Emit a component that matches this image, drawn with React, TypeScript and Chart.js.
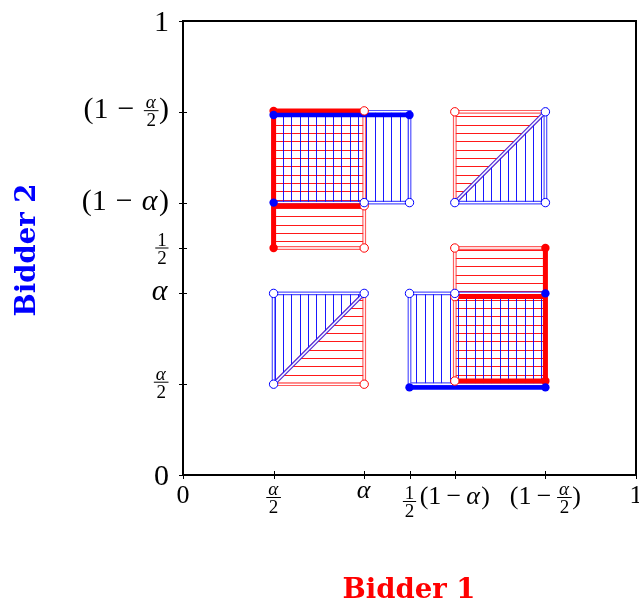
import React, { useEffect, useRef } from 'react';
import { Chart, registerables } from 'chart.js';

Chart.register(...registerables);

type Pt = { x: number; y: number };
const P = (x: number, y: number): Pt => ({ x, y });

// ---- Data -------------------------------------------------------------
// Bidder 1 regions (red, horizontal hatching)
const redTriangleLow: Pt[] = [P(0.2, 0.2), P(0.4, 0.2), P(0.4, 0.4), P(0.2, 0.2)];
const redTriangleHigh: Pt[] = [P(0.6, 0.6), P(0.6, 0.8), P(0.8, 0.8), P(0.6, 0.6)];
const redRectLeft: Pt[] = [P(0.2, 0.5), P(0.4, 0.5), P(0.4, 0.8), P(0.2, 0.8), P(0.2, 0.5)];
const redRectRight: Pt[] = [P(0.6, 0.2), P(0.8, 0.2), P(0.8, 0.5), P(0.6, 0.5), P(0.6, 0.2)];
// Bidder 2 regions (blue, vertical hatching)
const blueTriangleLow: Pt[] = [P(0.2, 0.2), P(0.2, 0.4), P(0.4, 0.4), P(0.2, 0.2)];
const blueTriangleHigh: Pt[] = [P(0.6, 0.6), P(0.8, 0.6), P(0.8, 0.8), P(0.6, 0.6)];
const blueRectLeft: Pt[] = [P(0.2, 0.6), P(0.5, 0.6), P(0.5, 0.8), P(0.2, 0.8), P(0.2, 0.6)];
const blueRectRight: Pt[] = [P(0.5, 0.2), P(0.8, 0.2), P(0.8, 0.4), P(0.5, 0.4), P(0.5, 0.2)];
// thick boundary segments
const redThickLeft: Pt[] = [P(0.2, 0.5), P(0.2, 0.802), P(0.4, 0.802)];
const redThickLeftMid: Pt[] = [P(0.2, 0.593), P(0.4, 0.593)];
const redThickRight: Pt[] = [P(0.6, 0.207), P(0.8, 0.207), P(0.8, 0.5)];
const redThickRightMid: Pt[] = [P(0.6, 0.393), P(0.8, 0.393)];
const blueThickLeft: Pt[] = [P(0.2, 0.793), P(0.5, 0.793)];
const blueThickRight: Pt[] = [P(0.5, 0.193), P(0.8, 0.193)];
// dots
const redFilled: Pt[] = [P(0.2, 0.802), P(0.2, 0.5), P(0.8, 0.5), P(0.8, 0.207)];
const blueFilled: Pt[] = [P(0.2, 0.793), P(0.2, 0.6), P(0.5, 0.793), P(0.8, 0.4), P(0.5, 0.193), P(0.8, 0.193)];
const redOpen: Pt[] = [P(0.4, 0.2), P(0.6, 0.8), P(0.4, 0.802), P(0.4, 0.5), P(0.4, 0.593), P(0.6, 0.5), P(0.6, 0.393), P(0.6, 0.207)];
const blueOpen: Pt[] = [P(0.2, 0.2), P(0.2, 0.4), P(0.4, 0.4), P(0.6, 0.6), P(0.8, 0.6), P(0.8, 0.8), P(0.4, 0.6), P(0.5, 0.6), P(0.5, 0.4), P(0.6, 0.4)];

// ticks
const xTickValues = [0, 0.2, 0.4, 0.5, 0.6, 0.8, 1];
const xTickLabels = ['0', '{α/2}', 'α', '{1/2}', '(1−α)', '(1−{α/2})', '1'];
const yTickValues = [0, 0.2, 0.4, 0.5, 0.6, 0.8, 1];
const yTickLabels = ['0', '{α/2}', 'α', '{1/2}', '(1−α)', '(1−{α/2})', '1'];
const xAxisTitle = 'Bidder 1';
const yAxisTitle = 'Bidder 2';

// ---- Helpers ----------------------------------------------------------
const RED = '#ff0000';
const BLUE = '#0000ff';
const FONT = "'Liberation Serif', 'Times New Roman', serif";

function makeHatch(dir: 'h' | 'v', color: string): CanvasPattern | string {
  const size = 25;
  const c = document.createElement('canvas');
  c.width = size;
  c.height = size;
  const g = c.getContext('2d');
  if (!g) return color;
  g.strokeStyle = color;
  g.lineWidth = 1;
  g.beginPath();
  for (const o of [0.5, 8.5, 16.5]) {
    if (dir === 'h') {
      g.moveTo(0, o);
      g.lineTo(size, o);
    } else {
      g.moveTo(o, 0);
      g.lineTo(o, size);
    }
  }
  g.stroke();
  return g.createPattern(c, 'repeat') || color;
}

type Item = { w: number; asc: number; desc: number; draw: (ctx: CanvasRenderingContext2D, x: number, base: number) => void };

function fontStr(size: number, italic: boolean) {
  return `${italic ? 'italic ' : ''}${size}px ${FONT}`;
}

function textItems(ctx: CanvasRenderingContext2D, t: string, size: number, minusGap: number): Item[] {
  const out: Item[] = [];
  for (const ch of t) {
    const italic = /[α-ω]/.test(ch);
    ctx.font = fontStr(size, italic);
    const m = ctx.measureText(ch);
    const gap = ch === '−' ? size * minusGap : 0;
    const extra = italic ? size * 0.05 : 0;
    out.push({
      w: m.width + gap * 2 + extra,
      asc: m.actualBoundingBoxAscent,
      desc: m.actualBoundingBoxDescent,
      draw: (c, x, b) => {
        c.font = fontStr(size, italic);
        c.fillText(ch, x + gap, b);
      },
    });
  }
  return out;
}

function measureRow(items: Item[]) {
  let w = 0, asc = 0, desc = 0;
  for (const it of items) {
    w += it.w;
    asc = Math.max(asc, it.asc);
    desc = Math.max(desc, it.desc);
  }
  return { w, asc, desc };
}

function layoutMath(ctx: CanvasRenderingContext2D, src: string, size: number, fsize: number, minusGap: number): Item {
  const items: Item[] = [];
  const re = /\{([^/}]+)\/([^}]+)\}/g;
  let last = 0;
  let m: RegExpExecArray | null;
  const fracItem = (n: string, d: string): Item => {
    const ni = textItems(ctx, n, fsize, 0);
    const di = textItems(ctx, d, fsize, 0);
    const nm = measureRow(ni);
    const dm = measureRow(di);
    const axis = size * 0.26;
    const pad = 2.5;
    const w = Math.max(nm.w, dm.w) + fsize * 0.25;
    return {
      w,
      asc: axis + pad + nm.desc + nm.asc,
      desc: -axis + pad + dm.asc + dm.desc,
      draw: (c, x, b) => {
        const barY = b - axis;
        let nx = x + (w - nm.w) / 2;
        const nb = barY - pad - nm.desc;
        for (const it of ni) { it.draw(c, nx, nb); nx += it.w; }
        let dx = x + (w - dm.w) / 2;
        const db = barY + pad + dm.asc;
        for (const it of di) { it.draw(c, dx, db); dx += it.w; }
        c.fillRect(x + 0.5, barY - 0.5, w - 1, 1);
      },
    };
  };
  while ((m = re.exec(src))) {
    items.push(...textItems(ctx, src.slice(last, m.index), size, minusGap));
    items.push(fracItem(m[1], m[2]));
    last = re.lastIndex;
  }
  items.push(...textItems(ctx, src.slice(last), size, minusGap));
  const r = measureRow(items);
  return {
    ...r,
    draw: (c, x, b) => {
      let cx = x;
      for (const it of items) { it.draw(c, cx, b); cx += it.w; }
    },
  };
}

const axesPlugin = {
  id: 'texAxes',
  afterDraw(chart: any) {
    const ctx: CanvasRenderingContext2D = chart.ctx;
    const { left, right, top, bottom } = chart.chartArea;
    const xs = chart.scales.x;
    const ys = chart.scales.y;
    ctx.save();
    ctx.strokeStyle = '#000';
    ctx.lineWidth = 2;
    ctx.strokeRect(left, top, right - left, bottom - top);
    ctx.lineWidth = 1;
    ctx.beginPath();
    xTickValues.forEach((v) => {
      const px = Math.round(xs.getPixelForValue(v)) + 0.5;
      ctx.moveTo(px, bottom - 4);
      ctx.lineTo(px, bottom + 4);
    });
    yTickValues.forEach((v) => {
      const py = Math.round(ys.getPixelForValue(v)) + 0.5;
      ctx.moveTo(left - 4, py);
      ctx.lineTo(left + 4, py);
    });
    ctx.stroke();

    ctx.fillStyle = '#000';
    ctx.textAlign = 'left';
    ctx.textBaseline = 'alphabetic';
    xTickValues.forEach((v, i) => {
      const box = layoutMath(ctx, xTickLabels[i], 26, 19, 0.2);
      const px = xs.getPixelForValue(v);
      const base = bottom + 11 + box.asc;
      box.draw(ctx, px - box.w / 2, base);
    });
    yTickValues.forEach((v, i) => {
      const box = layoutMath(ctx, yTickLabels[i], 30, 19, 0.3);
      const py = ys.getPixelForValue(v);
      const base = py + (box.asc - box.desc) / 2;
      box.draw(ctx, left - 14 - box.w, base);
    });

    ctx.font = "bold 27.5px 'DejaVu Serif', serif";
    ctx.textAlign = 'center';
    ctx.fillStyle = RED;
    ctx.fillText(xAxisTitle, 409, 598);
    ctx.fillStyle = BLUE;
    ctx.translate(35, (top + bottom) / 2 + 2);
    ctx.rotate(-Math.PI / 2);
    ctx.fillText(yAxisTitle, 0, 0);
    ctx.restore();
  },
};

export default function App() {
  const ref = useRef<HTMLCanvasElement>(null);
  useEffect(() => {
    if (!ref.current) return;
    const redPat = makeHatch('h', 'rgba(255,0,0,0.9)');
    const bluePat = makeHatch('v', 'rgba(0,0,255,0.9)');
    const redEdge = 'rgba(255,40,40,0.75)';
    const blueEdge = 'rgba(40,40,255,0.8)';

    const poly = (data: Pt[], pat: any, edge: string, order: number) => ({
      type: 'line' as const, data, fill: 'shape', backgroundColor: pat, borderColor: edge,
      borderWidth: 3.8, pointRadius: 0, tension: 0, order,
    });
    const inner = (data: Pt[], order: number) => ({
      type: 'line' as const, data, fill: false, borderColor: '#ffffff', borderWidth: 1.4,
      pointRadius: 0, tension: 0, order,
    });
    const thick = (data: Pt[], color: string, w: number, order: number) => ({
      type: 'line' as const, data, fill: false, borderColor: color, borderWidth: w,
      pointRadius: 0, tension: 0, order, borderCapStyle: 'butt' as const,
    });
    const dots = (data: Pt[], color: string, filled: boolean, order: number) => ({
      type: 'line' as const, data, showLine: false, fill: false, pointRadius: 4.2,
      pointBackgroundColor: filled ? color : '#ffffff', pointBorderColor: color,
      pointBorderWidth: filled ? 0 : 1, order,
    });

    const reds = [redTriangleLow, redTriangleHigh, redRectLeft, redRectRight];
    const blues = [blueTriangleLow, blueTriangleHigh, blueRectLeft, blueRectRight];

    const datasets: any[] = [
      ...reds.map((d) => poly(d, redPat, redEdge, 90)),
      ...reds.map((d) => inner(d, 85)),
      ...blues.map((d) => poly(d, bluePat, blueEdge, 80)),
      ...blues.map((d) => inner(d, 75)),
      thick(redThickLeft, RED, 5, 50),
      thick(redThickLeftMid, RED, 5, 50),
      thick(redThickRight, RED, 5, 50),
      thick(redThickRightMid, RED, 5, 50),
      thick(blueThickLeft, BLUE, 4.5, 40),
      thick(blueThickRight, BLUE, 4.5, 40),
      dots(redOpen, RED, false, 30),
      dots(blueOpen, BLUE, false, 25),
      dots(redFilled, RED, true, 20),
      dots(blueFilled, BLUE, true, 10),
    ];

    const chart = new Chart(ref.current, {
      type: 'line',
      data: { datasets },
      options: {
        animation: false,
        responsive: false,
        devicePixelRatio: 1,
        layout: { autoPadding: false, padding: { left: 183, right: 3, top: 21, bottom: 127 } },
        plugins: { legend: { display: false }, tooltip: { enabled: false }, title: { display: false } },
        scales: {
          x: { type: 'linear', min: 0, max: 1, display: false },
          y: { type: 'linear', min: 0, max: 1, display: false },
        },
      } as any,
      plugins: [axesPlugin],
    });
    return () => chart.destroy();
  }, []);

  return (
    <div style={{ position: 'absolute', left: 0, top: 0, width: 639, height: 602, background: '#fff' }}>
      <canvas ref={ref} width={639} height={602} style={{ display: 'block', width: 639, height: 602 }} />
    </div>
  );
}
